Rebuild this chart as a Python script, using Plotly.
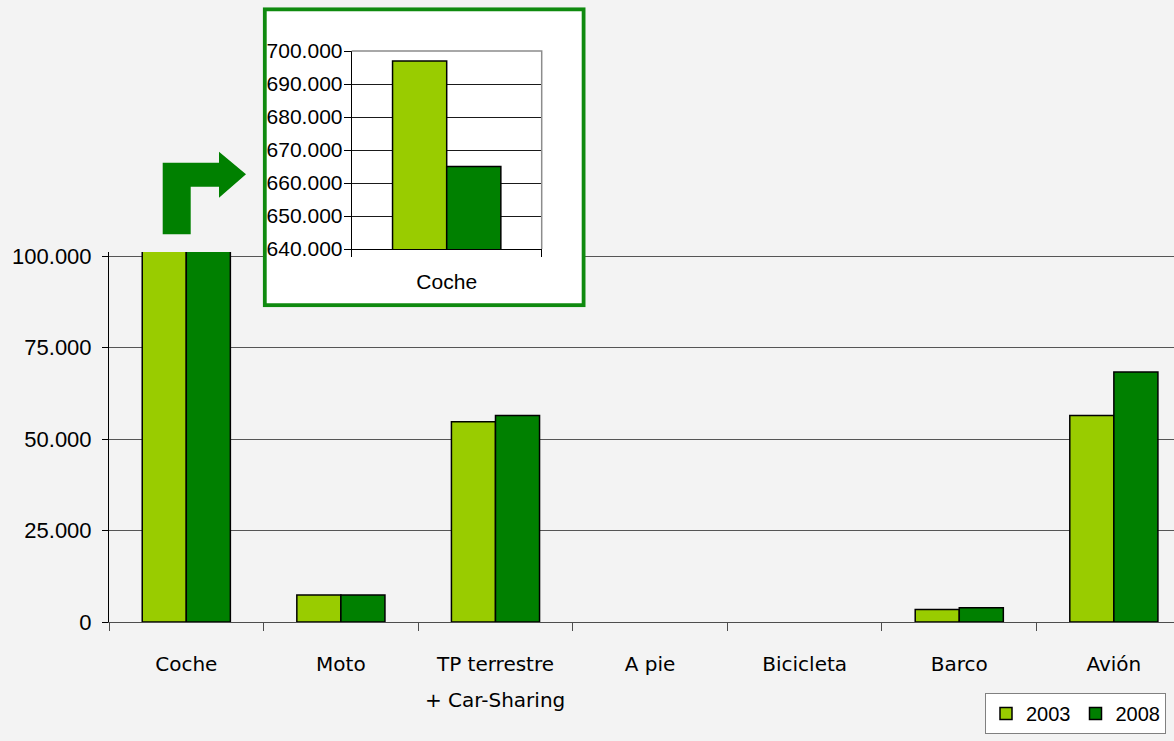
import plotly.graph_objects as go

W, H = 1174, 741

# ---------------- data ----------------
categories = ["Coche", "Moto", "TP terrestre + Car-Sharing", "A pie", "Bicicleta", "Barco", "Avión"]
values_2003 = [697000, 7400, 54700, 0, 0, 3400, 56400]
values_2008 = [665000, 7400, 56400, 0, 0, 3900, 68300]

inset_categories = ["Coche"]
inset_2003 = [697000]
inset_2008 = [665000]

main_ticks = [0, 25000, 50000, 75000, 100000]
inset_ticks = [640000, 650000, 660000, 670000, 680000, 690000, 700000]

series_names = ["2003", "2008"]
colors = ["#99cc00", "#008000"]

# two-line category label: first line on the axis, second line below it
split_label = ("TP terrestre + Car-Sharing", "TP terrestre", "+ Car-Sharing")


def px(x):
    return x / W


def py(y):
    return 1 - y / H


fig = go.Figure()

# main chart
for name, vals, col in zip(series_names, [values_2003, values_2008], colors):
    fig.add_trace(go.Bar(
        name=name, x=categories, y=vals, xaxis="x", yaxis="y",
        marker=dict(color=col, line=dict(color="black", width=[1.5 if v else 0 for v in vals])),
    ))

# placeholder subplot hosting the inset frame
fig.add_trace(go.Scatter(x=[], y=[], xaxis="x2", yaxis="y2", showlegend=False, hoverinfo="skip"))

# inset chart
for name, vals, col in zip(series_names, [inset_2003, inset_2008], colors):
    fig.add_trace(go.Bar(
        name=name, x=inset_categories, y=vals, xaxis="x3", yaxis="y3", showlegend=False,
        marker=dict(color=col, line=dict(color="black", width=1.5)),
    ))

axis_font = dict(family="Liberation Sans, Arial", size=22, color="black")
cat_font = dict(family="DejaVu Sans", size=20, color="black")
inset_font = dict(family="Liberation Sans, Arial", size=21, color="black")

fig.update_layout(
    template="none",
    width=W, height=H, autosize=False,
    margin=dict(l=0, r=0, t=0, b=0, pad=0),
    paper_bgcolor="#f3f3f3",
    plot_bgcolor="rgba(0,0,0,0)",
    separators=",.",
    barmode="group", bargap=0.43, bargroupgap=0,
    xaxis=dict(
        domain=[px(109), 1], range=[-0.5, 6.389], type="category", anchor="y",
        showline=True, linecolor="#4d4d4d", linewidth=1, automargin=False,
        ticks="outside", tickson="boundaries", ticklen=8, tickcolor="#4d4d4d",
        tickfont=cat_font, ticklabelstandoff=24, showgrid=False, zeroline=False,
        labelalias={split_label[0]: split_label[1]},
    ),
    yaxis=dict(
        domain=[py(622), py(252)], range=[0, 101093], anchor="x", automargin=False,
        tickvals=main_ticks, tickformat=",d",
        showgrid=True, gridcolor="#555555", gridwidth=1,
        showline=True, linecolor="black", linewidth=1,
        ticks="outside", ticklen=6, tickcolor="black",
        tickfont=axis_font, ticklabelstandoff=6, zeroline=False,
    ),
    xaxis2=dict(domain=[px(262.7), px(585.7)], range=[0, 323], autorange=False,
                visible=False, anchor="y2", fixedrange=True, automargin=False),
    yaxis2=dict(domain=[py(307.3), py(7.3)], range=[0, 300], autorange=False,
                visible=False, anchor="x2", fixedrange=True, automargin=False),
    xaxis3=dict(
        domain=[px(351.7), px(541.7)], range=[-0.5, 0.5], type="category", anchor="y3",
        showline=True, linecolor="black", linewidth=1, automargin=False,
        ticks="outside", tickson="boundaries", ticklen=7, tickcolor="black",
        tickfont=inset_font, ticklabelstandoff=14, showgrid=False, zeroline=False,
    ),
    yaxis3=dict(
        domain=[py(249), py(51)], range=[640000, 700000], anchor="x3", automargin=False,
        tickvals=inset_ticks, tickformat=",d",
        showgrid=True, gridcolor="#1a1a1a", gridwidth=1,
        showline=True, linecolor="black", linewidth=1,
        ticks="outside", ticklen=7, tickcolor="black",
        tickfont=inset_font, ticklabelstandoff=-3, zeroline=False,
    ),
    legend=dict(
        orientation="h", x=px(985), y=py(693), xanchor="left", yanchor="top",
        bgcolor="white", bordercolor="#808080", borderwidth=1,
        font=dict(family="Liberation Sans, Arial", size=20, color="black"),
        traceorder="normal",
    ),
    showlegend=True,
)

# second line of the TP category label
fig.add_annotation(x=split_label[0], xref="x", y=py(700), yref="paper",
                   text=split_label[2], showarrow=False, font=cat_font,
                   xanchor="center", yanchor="middle")

# inset frame (white box with green border) drawn in the placeholder subplot
fig.add_shape(type="rect", xref="x2", yref="y2", x0=2, x1=321, y0=2, y1=298,
              fillcolor="white", line=dict(color="#0f8a0f", width=4), layer="below")

# light grey top/right border of inset plot area
fig.add_shape(type="path", xref="paper", yref="paper",
              path=f"M {px(351.7)},{py(51)} L {px(541.7)},{py(51)} L {px(541.7)},{py(249)}",
              line=dict(color="#8c8c8c", width=1.5), layer="above")

# elbow arrow
pts = [(162.7, 234.3), (162.7, 162.7), (219, 162.7), (219, 151.7), (246, 174.3),
       (219, 197.7), (219, 186.7), (190.7, 186.7), (190.7, 234.3)]
path = "M " + " L ".join(f"{px(a)},{py(b)}" for a, b in pts) + " Z"
fig.add_shape(type="path", xref="paper", yref="paper", path=path,
              fillcolor="#008000", line=dict(width=0), layer="above")

fig.write_html(
    "out.html",
    config={"displayModeBar": False},
    post_script="document.body.style.margin='0';document.body.style.overflow='hidden';",
)
